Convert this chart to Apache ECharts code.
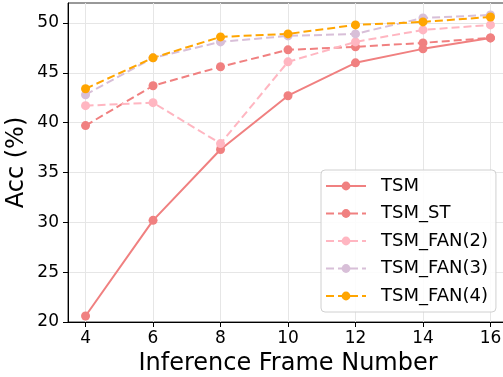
<!DOCTYPE html>
<html>
<head>
<meta charset="utf-8">
<script src="https://cdn.jsdelivr.net/npm/echarts@6/dist/echarts.min.js"></script>
<style>
  html, body { margin: 0; padding: 0; background: #fff; }
  #main { width: 503px; height: 377px; }
</style>
</head>
<body>
<div id="main"></div>
<script>
// кадры и точности по каждой модели
const frames = [4, 6, 8, 10, 12, 14, 16];
const tsm = [20.6, 30.2, 37.3, 42.7, 46.0, 47.4, 48.5];
const tsmSt = [39.7, 43.7, 45.6, 47.3, 47.6, 48.0, 48.5];
const tsmFan2 = [41.7, 42.0, 37.9, 46.1, 48.1, 49.3, 49.8];
const tsmFan3 = [42.8, 46.5, 48.1, 48.7, 48.9, 50.5, 50.8];
const tsmFan4 = [43.4, 46.5, 48.6, 48.9, 49.8, 50.1, 50.6];
const yTicks = [20, 25, 30, 35, 40, 45, 50];

const font = 'DejaVu Sans';
let chart = echarts.init(document.getElementById('main'), null, {renderer: 'canvas'});

function makeSeries(name, values, color, dashed) {
    return {
        name: name,
        type: 'line',
        data: frames.map((f, i) => [f, values[i]]),
        symbol: 'circle',
        symbolSize: 9,
        itemStyle: { color: color },
        lineStyle: { color: color, width: 2, type: dashed ? [8, 4] : 'solid' },
        emphasis: { disabled: true },
        animation: false
    };
}

const option = {
    backgroundColor: '#fff',
    grid: {
        left: 68, top: 3, right: -5, bottom: 55,
        containLabel: false,
        outerBoundsMode: 'none',
        show: true, borderColor: '#333', borderWidth: 1
    },
    xAxis: {
        type: 'value',
        min: 3.48,
        max: 16.52,
        name: 'Inference Frame Number',
        nameLocation: 'middle',
        nameGap: 28.5,
        nameTextStyle: { fontFamily: font, fontSize: 24, color: '#000' },
        axisLine: { lineStyle: { color: '#000', width: 1 } },
        axisTick: { show: true, length: 5, lineStyle: { color: '#000' }, customValues: frames },
        axisLabel: { fontFamily: font, fontSize: 17, color: '#000', margin: 8, customValues: frames },
        splitLine: { show: true, lineStyle: { color: '#e6e6e6', width: 1 } }
    },
    yAxis: {
        type: 'value',
        min: 20,
        max: 52,
        name: 'Acc (%)',
        nameLocation: 'middle',
        nameRotate: 90,
        nameGap: 39,
        nameMoveOverlap: false,
        nameTextStyle: { fontFamily: font, fontSize: 24, color: '#000' },
        axisLine: { show: true, lineStyle: { color: '#000', width: 1 } },
        axisTick: { show: true, length: 5, lineStyle: { color: '#000' }, customValues: yTicks },
        axisLabel: { fontFamily: font, fontSize: 17, color: '#000', margin: 9, customValues: yTicks },
        splitLine: { show: true, lineStyle: { color: '#e6e6e6', width: 1 } }
    },
    legend: {
        orient: 'vertical',
        left: 321,
        top: 170,
        padding: [6, 8, 6, 4],
        itemWidth: 40,
        itemHeight: 11,
        itemGap: 7.5,
        backgroundColor: 'rgba(255,255,255,0.85)',
        borderColor: '#d0d0d0',
        borderWidth: 1,
        borderRadius: 4,
        textStyle: { fontFamily: font, fontSize: 18, color: '#000', lineHeight: 20, padding: [0, 0, 0, 10] },
        data: ['TSM', 'TSM_ST', 'TSM_FAN(2)', 'TSM_FAN(3)', 'TSM_FAN(4)']
    },
    series: [
        makeSeries('TSM', tsm, '#F08080', false),
        makeSeries('TSM_ST', tsmSt, '#F08080', true),
        makeSeries('TSM_FAN(2)', tsmFan2, '#FFB6C1', true),
        makeSeries('TSM_FAN(3)', tsmFan3, '#D8BFD8', true),
        makeSeries('TSM_FAN(4)', tsmFan4, '#FFA500', true)
    ]
};
chart.setOption(option);
</script>
</body>
</html>
